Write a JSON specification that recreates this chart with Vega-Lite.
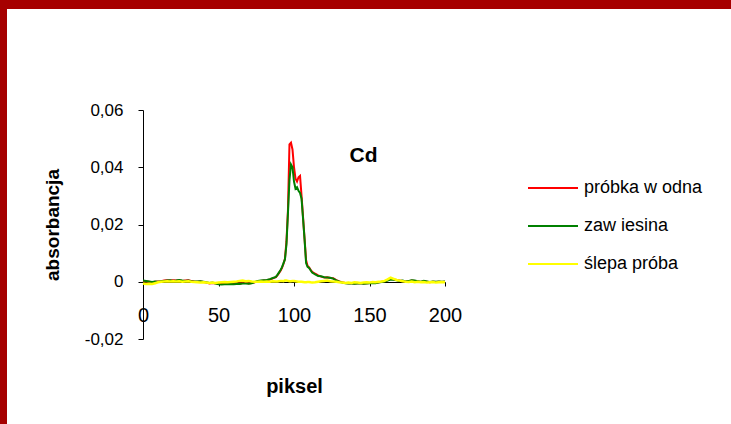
{
  "$schema": "https://vega.github.io/schema/vega-lite/v6.json",
  "autosize": "none",
  "width": 724,
  "height": 415,
  "padding": {"left": 7, "top": 9, "right": 0, "bottom": 0},
  "background": "#A60000",
  "config": {
    "view": {"fill": "white", "stroke": null},
    "font": "Liberation Sans",
    "axis": {"grid": false, "domainColor": "black", "tickColor": "black", "labelColor": "black", "titleColor": "black", "labelFont": "Liberation Sans", "titleFont": "Liberation Sans", "labelFlush": false, "labelOverlap": false}
  },
  "data": {"values": [
    {"x":0,"a":0.0003,"b":0.0004,"c":-0.0006},
    {"x":2,"a":0.0002,"b":0.0003,"c":-0.0008},
    {"x":4,"a":0.0000,"b":0.0001,"c":-0.0007},
    {"x":6,"a":-0.0002,"b":-0.0001,"c":-0.0008},
    {"x":8,"a":0.0000,"b":0.0001,"c":-0.0005},
    {"x":10,"a":0.0001,"b":0.0000,"c":-0.0002},
    {"x":12,"a":0.0002,"b":0.0002,"c":0.0000},
    {"x":14,"a":0.0004,"b":0.0003,"c":0.0001},
    {"x":16,"a":0.0005,"b":0.0004,"c":0.0002},
    {"x":18,"a":0.0004,"b":0.0005,"c":0.0001},
    {"x":20,"a":0.0005,"b":0.0003,"c":0.0002},
    {"x":22,"a":0.0004,"b":0.0004,"c":0.0001},
    {"x":24,"a":0.0005,"b":0.0006,"c":0.0002},
    {"x":26,"a":0.0003,"b":0.0004,"c":0.0000},
    {"x":28,"a":0.0004,"b":0.0003,"c":0.0001},
    {"x":30,"a":0.0005,"b":0.0004,"c":0.0002},
    {"x":32,"a":0.0003,"b":0.0002,"c":0.0000},
    {"x":34,"a":0.0001,"b":0.0001,"c":-0.0001},
    {"x":36,"a":0.0000,"b":0.0001,"c":-0.0002},
    {"x":38,"a":0.0001,"b":0.0002,"c":-0.0003},
    {"x":40,"a":-0.0001,"b":0.0000,"c":-0.0002},
    {"x":42,"a":-0.0003,"b":-0.0002,"c":-0.0003},
    {"x":44,"a":-0.0006,"b":-0.0004,"c":-0.0004},
    {"x":46,"a":-0.0004,"b":-0.0003,"c":-0.0003},
    {"x":48,"a":-0.0005,"b":-0.0006,"c":-0.0004},
    {"x":50,"a":-0.0008,"b":-0.0009,"c":-0.0003},
    {"x":52,"a":-0.0008,"b":-0.0010,"c":-0.0002},
    {"x":54,"a":-0.0007,"b":-0.0009,"c":-0.0001},
    {"x":56,"a":-0.0008,"b":-0.0009,"c":-0.0002},
    {"x":58,"a":-0.0007,"b":-0.0008,"c":-0.0001},
    {"x":60,"a":-0.0007,"b":-0.0009,"c":0.0000},
    {"x":62,"a":-0.0006,"b":-0.0008,"c":0.0001},
    {"x":64,"a":-0.0007,"b":-0.0008,"c":0.0003},
    {"x":66,"a":-0.0004,"b":-0.0006,"c":0.0004},
    {"x":68,"a":-0.0003,"b":-0.0006,"c":0.0002},
    {"x":70,"a":-0.0006,"b":-0.0007,"c":0.0003},
    {"x":72,"a":-0.0004,"b":-0.0005,"c":0.0001},
    {"x":74,"a":-0.0002,"b":-0.0001,"c":0.0000},
    {"x":76,"a":0.0002,"b":0.0003,"c":0.0000},
    {"x":78,"a":0.0003,"b":0.0004,"c":0.0001},
    {"x":80,"a":0.0004,"b":0.0005,"c":0.0000},
    {"x":82,"a":0.0005,"b":0.0006,"c":0.0001},
    {"x":84,"a":0.0008,"b":0.0009,"c":0.0000},
    {"x":86,"a":0.0012,"b":0.0013,"c":0.0002},
    {"x":88,"a":0.0016,"b":0.0017,"c":0.0001},
    {"x":89,"a":0.0022,"b":0.0024,"c":0.0001},
    {"x":90,"a":0.0030,"b":0.0032,"c":0.0002},
    {"x":91,"a":0.0038,"b":0.0040,"c":0.0003},
    {"x":92,"a":0.0048,"b":0.0050,"c":0.0003},
    {"x":93,"a":0.0062,"b":0.0064,"c":0.0002},
    {"x":94,"a":0.0080,"b":0.0078,"c":0.0004},
    {"x":95,"a":0.0140,"b":0.0130,"c":0.0004},
    {"x":96,"a":0.0250,"b":0.0240,"c":0.0003},
    {"x":97,"a":0.0480,"b":0.0355,"c":0.0002},
    {"x":98,"a":0.0486,"b":0.0410,"c":0.0002},
    {"x":99,"a":0.0462,"b":0.0400,"c":0.0003},
    {"x":100,"a":0.0400,"b":0.0350,"c":0.0003},
    {"x":101,"a":0.0360,"b":0.0325,"c":0.0002},
    {"x":102,"a":0.0350,"b":0.0330,"c":0.0001},
    {"x":103,"a":0.0365,"b":0.0318,"c":0.0000},
    {"x":104,"a":0.0370,"b":0.0310,"c":0.0000},
    {"x":105,"a":0.0300,"b":0.0290,"c":0.0000},
    {"x":106,"a":0.0225,"b":0.0220,"c":-0.0001},
    {"x":107,"a":0.0150,"b":0.0148,"c":-0.0002},
    {"x":108,"a":0.0075,"b":0.0065,"c":-0.0002},
    {"x":109,"a":0.0055,"b":0.0052,"c":-0.0001},
    {"x":110,"a":0.0050,"b":0.0048,"c":-0.0001},
    {"x":111,"a":0.0042,"b":0.0040,"c":-0.0002},
    {"x":112,"a":0.0035,"b":0.0032,"c":-0.0003},
    {"x":114,"a":0.0028,"b":0.0026,"c":-0.0002},
    {"x":116,"a":0.0022,"b":0.0020,"c":0.0000},
    {"x":118,"a":0.0018,"b":0.0019,"c":0.0002},
    {"x":120,"a":0.0015,"b":0.0016,"c":0.0003},
    {"x":122,"a":0.0016,"b":0.0015,"c":0.0004},
    {"x":124,"a":0.0013,"b":0.0014,"c":0.0002},
    {"x":126,"a":0.0012,"b":0.0011,"c":0.0001},
    {"x":128,"a":0.0006,"b":0.0005,"c":0.0000},
    {"x":130,"a":0.0001,"b":0.0000,"c":-0.0002},
    {"x":132,"a":-0.0002,"b":-0.0003,"c":-0.0003},
    {"x":134,"a":-0.0004,"b":-0.0005,"c":-0.0004},
    {"x":136,"a":-0.0005,"b":-0.0006,"c":-0.0003},
    {"x":138,"a":-0.0004,"b":-0.0006,"c":-0.0004},
    {"x":140,"a":-0.0006,"b":-0.0007,"c":-0.0002},
    {"x":142,"a":-0.0005,"b":-0.0006,"c":-0.0003},
    {"x":144,"a":-0.0004,"b":-0.0005,"c":-0.0004},
    {"x":146,"a":-0.0006,"b":-0.0007,"c":-0.0003},
    {"x":148,"a":-0.0005,"b":-0.0006,"c":-0.0002},
    {"x":150,"a":-0.0004,"b":-0.0005,"c":-0.0003},
    {"x":152,"a":-0.0003,"b":-0.0004,"c":-0.0001},
    {"x":154,"a":-0.0004,"b":-0.0005,"c":-0.0002},
    {"x":156,"a":-0.0002,"b":-0.0003,"c":0.0000},
    {"x":158,"a":0.0000,"b":-0.0001,"c":0.0001},
    {"x":160,"a":0.0002,"b":0.0001,"c":0.0003},
    {"x":162,"a":0.0006,"b":0.0004,"c":0.0008},
    {"x":164,"a":0.0012,"b":0.0008,"c":0.0014},
    {"x":166,"a":0.0008,"b":0.0007,"c":0.0010},
    {"x":168,"a":0.0006,"b":0.0005,"c":0.0006},
    {"x":170,"a":0.0004,"b":0.0003,"c":0.0004},
    {"x":172,"a":0.0003,"b":0.0004,"c":0.0002},
    {"x":174,"a":0.0000,"b":0.0001,"c":0.0000},
    {"x":176,"a":0.0002,"b":0.0003,"c":-0.0001},
    {"x":178,"a":0.0004,"b":0.0005,"c":0.0001},
    {"x":180,"a":0.0003,"b":0.0004,"c":-0.0002},
    {"x":182,"a":0.0001,"b":0.0002,"c":0.0000},
    {"x":184,"a":-0.0001,"b":0.0000,"c":-0.0002},
    {"x":186,"a":0.0002,"b":0.0003,"c":-0.0001},
    {"x":188,"a":0.0000,"b":0.0001,"c":-0.0003},
    {"x":190,"a":-0.0002,"b":-0.0001,"c":-0.0002},
    {"x":192,"a":0.0000,"b":0.0001,"c":-0.0001},
    {"x":194,"a":-0.0001,"b":0.0000,"c":-0.0003},
    {"x":196,"a":0.0000,"b":0.0001,"c":-0.0002},
    {"x":198,"a":-0.0001,"b":0.0000,"c":-0.0001},
    {"x":200,"a":0.0000,"b":0.0001,"c":-0.0002}
  ]},
  "transform": [{"fold": ["a", "b", "c"], "as": ["s", "v"]}],
  "encoding": {
    "x": {
      "field": "x", "type": "quantitative",
      "scale": {"domain": [0, 200], "range": [136, 438], "nice": false, "zero": false},
      "axis": {"title": "piksel", "values": [0, 50, 100, 150, 200], "format": "d", "offset": -142, "tickSize": 4, "labelPadding": 19, "labelFontSize": 20, "titleFontSize": 20, "titleFontWeight": "bold", "titlePadding": 51}
    },
    "y": {
      "field": "v", "type": "quantitative",
      "scale": {"domain": [-0.02, 0.06], "range": [330, 101], "nice": false, "zero": false},
      "axis": {"title": "absorbancja", "values": [-0.02, 0, 0.02, 0.04, 0.06], "labelExpr": "datum.value == 0 ? '0' : replace(replace(format(datum.value, '.2f'), '.', ','), '\u2212', '-')", "offset": -136, "tickSize": 5, "labelPadding": 15, "labelFontSize": 17, "titleFontSize": 19, "titleFontWeight": "bold", "titlePadding": 22}
    },
    "color": {
      "field": "s", "type": "nominal",
      "scale": {"domain": ["a", "b", "c"], "range": ["#FF0000", "#008000", "#FFFF00"]},
      "legend": {"orient": "none", "legendX": 520, "legendY": 153, "title": null, "symbolType": "stroke", "symbolSize": 2500, "symbolStrokeWidth": 2, "labelFontSize": 18, "labelFont": "Liberation Sans", "labelColor": "black", "rowPadding": 3, "labelOffset": 5, "padding": 0, "labelLimit": 300,
        "labelExpr": "datum.label == 'a' ? 'próbka w odna' : datum.label == 'b' ? 'zaw iesina' : 'ślepa próba'"}
    }
  },
  "layer": [
    {"transform": [{"filter": "datum.s == 'a'"}], "mark": {"type": "line", "strokeWidth": 2}},
    {"transform": [{"filter": "datum.s == 'b'"}], "mark": {"type": "line", "strokeWidth": 2}},
    {"transform": [{"filter": "datum.s == 'c'"}], "mark": {"type": "line", "strokeWidth": 2.5}},
    {
      "data": {"values": [{"px": 146, "py": 0.044, "label": "Cd"}]},
      "transform": [],
      "mark": {"type": "text", "fontSize": 21, "fontWeight": "bold", "font": "Liberation Sans", "color": "black", "align": "center", "baseline": "middle"},
      "encoding": {
        "x": {"field": "px", "type": "quantitative"},
        "y": {"field": "py", "type": "quantitative"},
        "text": {"field": "label"},
        "color": {"value": "black"}
      }
    }
  ]
}
